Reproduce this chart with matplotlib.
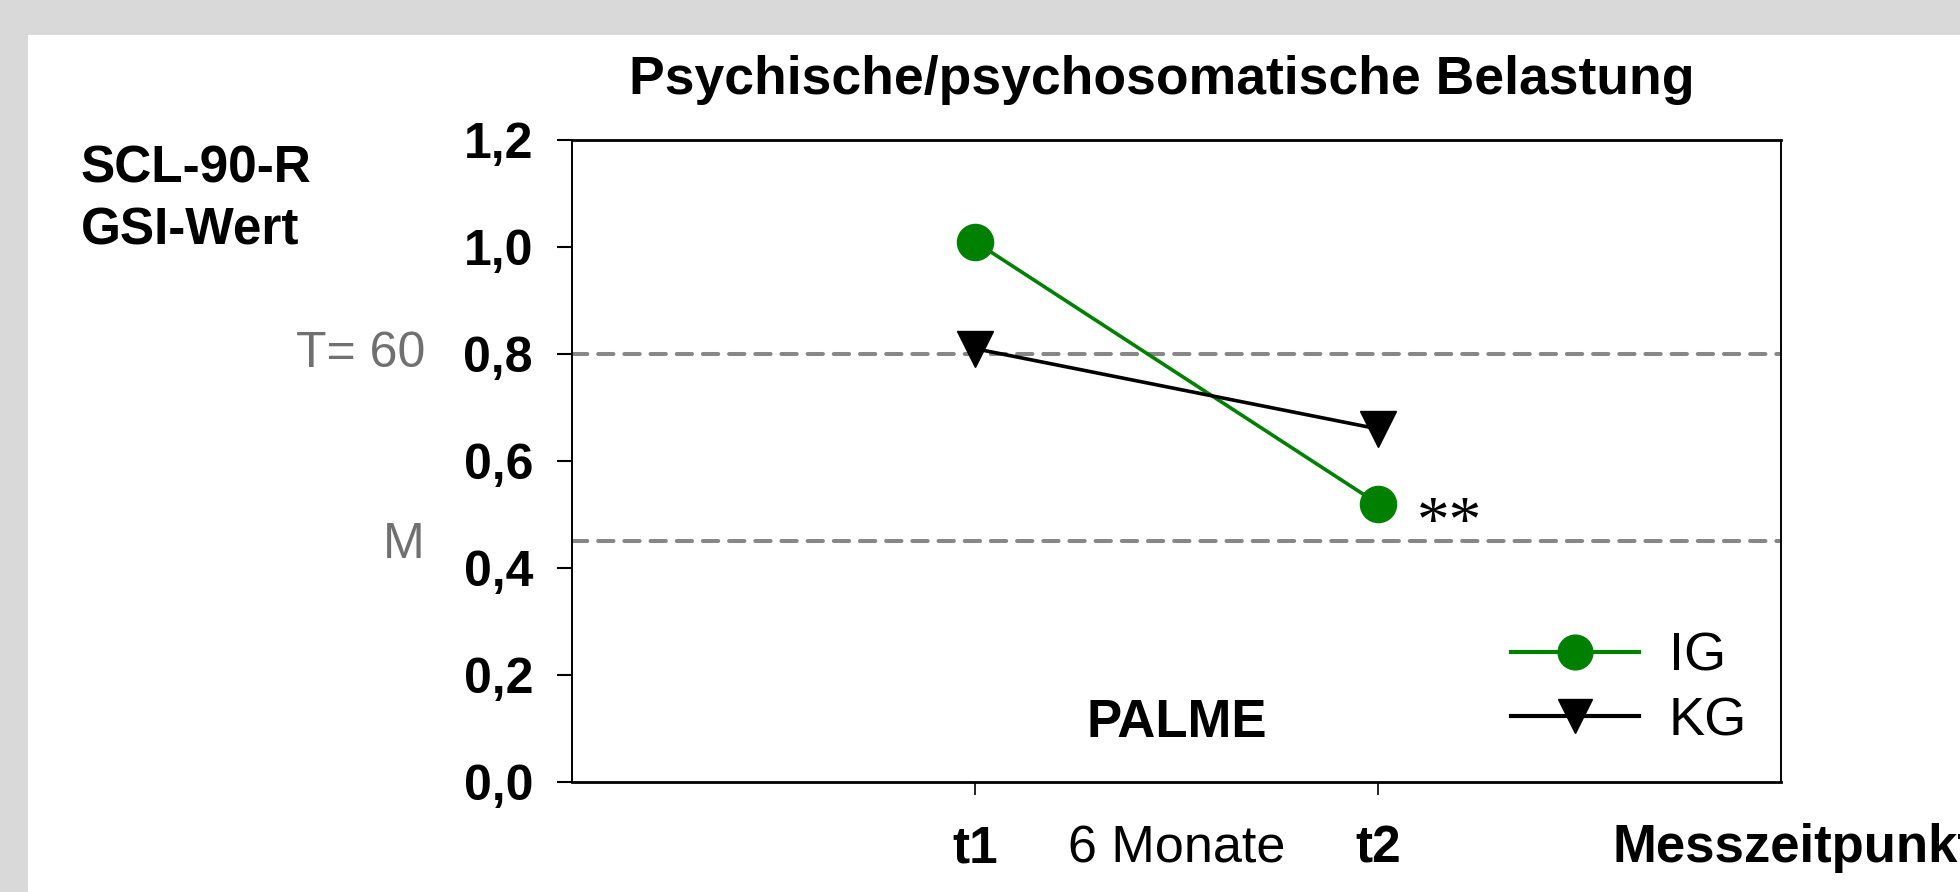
import matplotlib.pyplot as plt
from matplotlib.patches import Rectangle

plt.rcParams['font.family'] = ['Liberation Sans', 'DejaVu Sans']

# data
zeitpunkte = ['t1', 't2']
x_pos = [1, 2]
ig_werte = [1.01, 0.52]
kg_werte = [0.81, 0.66]
t60_linie = 0.80
m_linie = 0.45
y_ticks = [0.0, 0.2, 0.4, 0.6, 0.8, 1.0, 1.2]
y_labels = ['0,0', '0,2', '0,4', '0,6', '0,8', '1,0', '1,2']

fig = plt.figure(figsize=(19.6, 8.92), dpi=100)
fig.patch.set_facecolor('#d9d9d9')
# white panel inside grey frame
fig.patches.append(Rectangle((28/1960, 0), 1, 1 - 35/892, transform=fig.transFigure,
                             facecolor='white', edgecolor='none', zorder=-5))

ax = fig.add_axes([572/1960, 1 - 782/892, 1209/1960, 642/892], zorder=2)
ax.set_facecolor('white')
ax.set_xlim(0, 3)
ax.set_ylim(0, 1.2)

for yv in (t60_linie, m_linie):
    ax.axhline(yv, color='#878787', lw=2.9, dashes=(3.8, 2.7),
               dash_capstyle='round', zorder=1)

ax.plot(x_pos, ig_werte, color='#008000', lw=2.6, marker='o', ms=26,
        label='IG', zorder=3)
ax.plot(x_pos, kg_werte, color='black', lw=2.6, marker='v', ms=26,
        label='KG', zorder=3)

ax.set_yticks(y_ticks)
ax.set_yticklabels(y_labels, fontsize=36, fontweight='bold')
ax.tick_params(axis='y', direction='out', length=11, width=1.5, pad=17)
ax.set_xticks(x_pos)
ax.set_xticklabels([])
ax.tick_params(axis='x', direction='out', length=9, width=1.2)
for s in ax.spines.values():
    s.set_linewidth(1.4)
ax.spines['top'].set_linewidth(2)
ax.spines['bottom'].set_linewidth(2)

ax.text(2.096, 0.45, '**', fontsize=47, family='Liberation Serif', va='baseline', ha='left')
ax.text(1.5, 0.11, 'PALME', fontsize=38, fontweight='bold', ha='center', va='center')

leg = ax.legend(loc='lower right', bbox_to_anchor=(1.012, -0.02), frameon=False,
                fontsize=39, handlelength=2.35, handletextpad=0.55, labelspacing=0.27)
for h in leg.legend_handles:
    h.set_markersize(25)
    h.set_linewidth(3)

# texts around the axes
fig.text(1162/1960, 1 - 94/892, 'Psychische/psychosomatische Belastung',
         fontsize=38.5, fontweight='bold', ha='center', va='baseline')
fig.text(81/1960, 1 - 169/892, 'SCL-90-R', fontsize=37, fontweight='bold', va='center')
fig.text(81/1960, 1 - 231/892, 'GSI-Wert', fontsize=37, fontweight='bold', va='center')
fig.text(425/1960, 1 - 354/892, 'T= 60', fontsize=36, color='#707070', ha='right', va='center')
fig.text(425/1960, 1 - 545/892, 'M', fontsize=36, color='#707070', ha='right', va='center')

for xp, lab in zip(x_pos, zeitpunkte):
    ax.text(xp, -0.125, lab, fontsize=37, fontweight='bold', ha='center', va='center',
            clip_on=False)
ax.text(1.5, -0.125, '6 Monate', fontsize=37.5, ha='center', va='center', clip_on=False)
# the reference itself runs this label off the right edge
fig.text(1612/1960, 1 - 848/892, 'Messzeitpunkt', fontsize=38, fontweight='bold',
         ha='left', va='center')

fig.savefig('out.png', dpi=100, facecolor=fig.get_facecolor())
